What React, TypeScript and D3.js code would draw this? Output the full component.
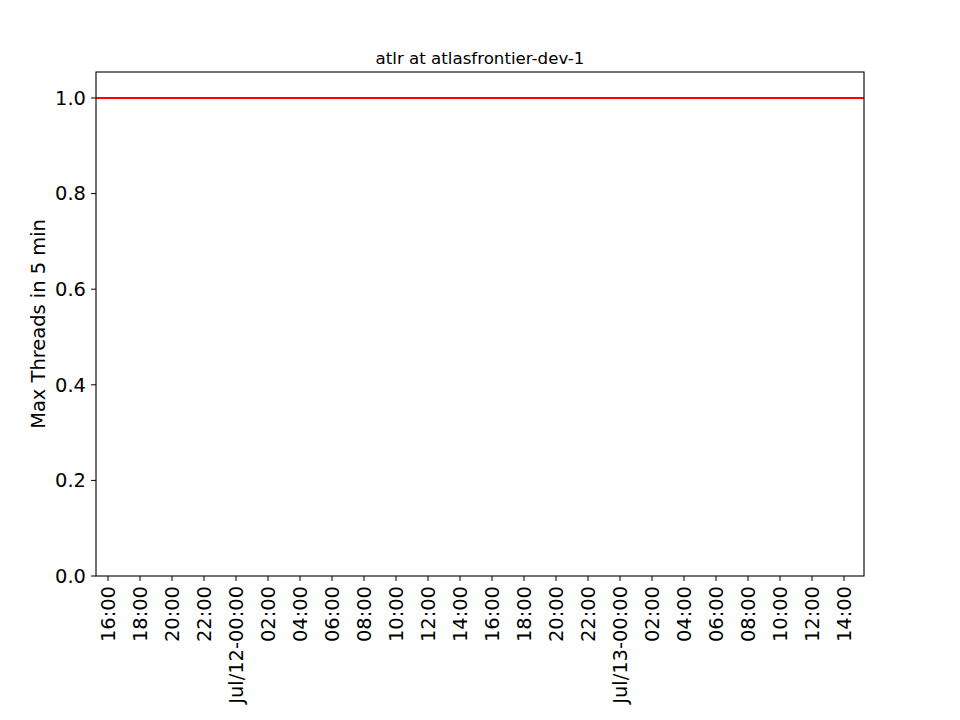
import React from "react";
import * as d3 from "d3";

const times: string[] = ["2023-07-11T15:15:00", "2023-07-13T15:15:00"];
const values: number[] = [1, 1];
const yTicks: number[] = [0, 0.2, 0.4, 0.6, 0.8, 1.0];
const title = "atlr at atlasfrontier-dev-1";
const yLabel = "Max Threads in 5 min";

const W = 960, H = 720;
const m = { left: 96, right: 864, top: 72, bottom: 576 };
const font = "'DejaVu Sans', sans-serif";

export default function App() {
  const parse = (s: string) => new Date(s);
  const t0 = parse(times[0]);
  const t1 = parse(times[times.length - 1]);
  const x = d3.scaleTime().domain([t0, t1]).range([m.left, m.right]);
  const y = d3.scaleLinear().domain([0, 1.0544]).range([m.bottom, m.top]);
  const xTicks = d3.timeHour.every(2)!.range(t0, t1);
  const fmt = (d: Date) =>
    d.getHours() === 0 ? d3.timeFormat("%b/%d-%H:%M")(d) : d3.timeFormat("%H:%M")(d);
  const data = times.map((t, i) => ({ t: parse(t), v: values[i] }));
  const line = d3.line<{ t: Date; v: number }>().x(d => x(d.t)).y(d => y(d.v));

  return (
    <svg width={W} height={H} style={{ position: "absolute", left: 0, top: 0, background: "#fff" }} fontFamily={font}>
      <rect x={0} y={0} width={W} height={H} fill="#fff" />
      <text x={(m.left + m.right) / 2} y={64} textAnchor="middle" fontSize={16.67} fill="#000">{title}</text>
      <path d={line(data) || ""} fill="none" stroke="#ff0000" strokeWidth={2} />
      <rect x={m.left} y={m.top} width={m.right - m.left} height={m.bottom - m.top} fill="none" stroke="#000" strokeWidth={1.1} />
      {yTicks.map(v => (
        <g key={v}>
          <line x1={m.left - 5} x2={m.left} y1={y(v)} y2={y(v)} stroke="#000" strokeWidth={1} />
          <text x={m.left - 10} y={y(v)} dy="0.35em" textAnchor="end" fontSize={19.44} fill="#000">{v.toFixed(1)}</text>
        </g>
      ))}
      {xTicks.map((d, i) => (
        <g key={i}>
          <line x1={x(d)} x2={x(d)} y1={m.bottom} y2={m.bottom + 5} stroke="#000" strokeWidth={1} />
          <text transform={`translate(${x(d)},${m.bottom + 10}) rotate(-90)`} dy="0.35em" textAnchor="end" fontSize={19.44} fill="#000">{fmt(d)}</text>
        </g>
      ))}
      <text transform={`translate(45,${(m.top + m.bottom) / 2}) rotate(-90)`} textAnchor="middle" fontSize={19.44} fill="#000">{yLabel}</text>
    </svg>
  );
}
